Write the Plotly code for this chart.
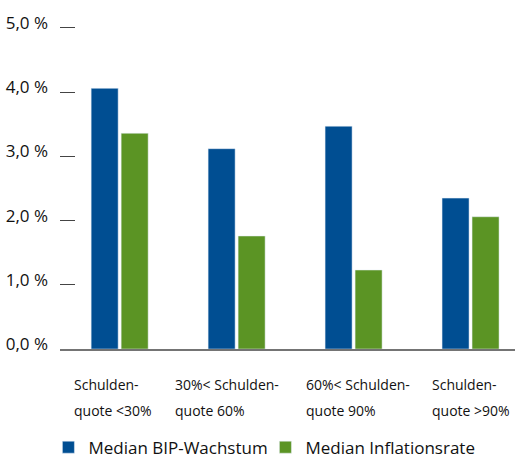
import plotly.graph_objects as go

categories = ["<30%", "30-60%", "60-90%", ">90%"]
label_line1 = ["Schulden-", "30%< Schulden-", "60%< Schulden-", "Schulden-"]
label_line2 = ["quote <30%", "quote 60%", "quote 90%", "quote >90%"]
bip = [4.06, 3.12, 3.47, 2.35]
inflation = [3.36, 1.76, 1.23, 2.06]
tick_vals = [0, 1, 2, 3, 4, 5]
tick_text = ["0,0 %", "1,0 %", "2,0 %", "3,0 %", "4,0 %", "5,0 %"]

BLUE = "#004e92"
GREEN = "#5b9424"
TEXT = "#111111"
FONT = "Open Sans"

fig = go.Figure()
fig.add_trace(go.Bar(x=categories, y=bip, name="Median BIP-Wachstum", marker_color=BLUE))
fig.add_trace(go.Bar(x=categories, y=inflation, name="Median Inflationsrate", marker_color=GREEN))

label_shift = [-48, -64, -50, -41]
annotations = []
for i, (l1, l2) in enumerate(zip(label_line1, label_line2)):
    annotations.append(dict(x=categories[i], y=0, xref="x", yref="y", text=l1, showarrow=False,
                            xanchor="left", yanchor="middle", xshift=label_shift[i], yshift=-35,
                            font=dict(family=FONT, size=14, color=TEXT)))
    annotations.append(dict(x=categories[i], y=0, xref="x", yref="y", text=l2, showarrow=False,
                            xanchor="left", yanchor="middle", xshift=label_shift[i], yshift=-61,
                            font=dict(family=FONT, size=14, color=TEXT)))

fig.update_layout(
    width=515, height=459,
    margin=dict(l=60, r=0, t=10, b=110, autoexpand=False),
    paper_bgcolor="white", plot_bgcolor="white",
    barmode="group", bargap=0.487, bargroupgap=0.1,
    font=dict(family=FONT, size=17, color=TEXT),
    showlegend=True,
    legend=dict(orientation="h", xref="container", yref="container", x=0.094, y=0.064,
                xanchor="left", yanchor="top", font=dict(family=FONT, size=17, color=TEXT),
                entrywidth=172, entrywidthmode="pixels",
                bgcolor="rgba(0,0,0,0)"),
    annotations=annotations,
)
fig.update_xaxes(type="category", range=[-0.51, 3.38], showticklabels=False, ticks="",
                 showgrid=False, zeroline=False, showline=True,
                 linecolor="rgba(70,70,70,0.75)", linewidth=2)
fig.update_yaxes(range=[0, 5.28], tickvals=tick_vals, ticktext=tick_text,
                 ticks="inside", ticklen=15, tickwidth=1, tickcolor="#444",
                 showgrid=False, zeroline=False, showline=False,
                 ticklabelstandoff=11, ticklabelshift=-5,
                 tickfont=dict(family=FONT, size=17, color=TEXT))

fig.write_html("out.html")
